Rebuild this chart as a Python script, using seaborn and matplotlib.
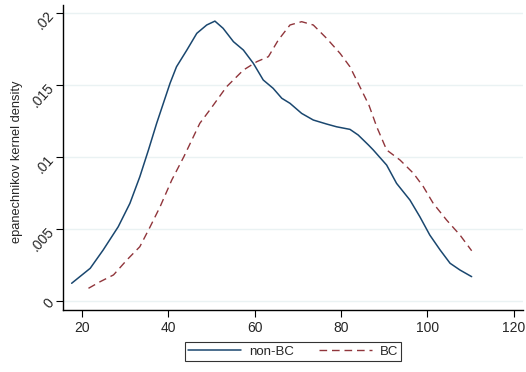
import numpy as np
import pandas as pd
import matplotlib
matplotlib.use("Agg")
import matplotlib.pyplot as plt
import seaborn as sns

# non-BC (solid) density curve
nonbc_x = [17.6, 21.9, 24.9, 28.4, 31.1, 33.4, 35.4, 37.3, 40.4, 41.9, 44.3, 46.6, 48.9,
           50.8, 52.7, 55.1, 57.4, 59.7, 62.0, 64.3, 66.3, 68.2, 70.9, 73.6, 76.7, 79.0,
           82.1, 84.0, 86.4, 87.5, 90.6, 92.9, 96.0, 98.3, 100.6, 103.0, 105.3, 107.6, 110.3]
nonbc_y = [0.00123, 0.00227, 0.00354, 0.00516, 0.00678, 0.00863, 0.01049, 0.01234, 0.01512,
           0.01627, 0.01743, 0.01859, 0.01917, 0.01944, 0.01894, 0.01801, 0.01743, 0.01651,
           0.01535, 0.01477, 0.01408, 0.01373, 0.01303, 0.01257, 0.01229, 0.01210, 0.01192,
           0.01153, 0.01083, 0.01049, 0.00944, 0.00817, 0.00701, 0.00585, 0.00458, 0.00354,
           0.00262, 0.00215, 0.00169]

# BC (dashed) density curve
bc_x = [21.5, 24.2, 27.3, 30.4, 33.4, 35.8, 38.1, 40.8, 43.6, 47.3, 49.7, 53.5, 57.4, 60.5,
        63.2, 65.5, 68.2, 70.9, 73.6, 76.7, 79.8, 82.1, 84.0, 86.5, 88.3, 90.6, 93.7, 96.8,
        99.1, 101.4, 104.5, 107.6, 110.3]
bc_y = [0.00088, 0.00134, 0.00181, 0.00285, 0.00377, 0.00516, 0.00655, 0.00840, 0.01002,
        0.01234, 0.01330, 0.01488, 0.01604, 0.01662, 0.01697, 0.01813, 0.01917, 0.01940,
        0.01917, 0.01824, 0.01720, 0.01627, 0.01512, 0.01360, 0.01210, 0.01049, 0.00979,
        0.00887, 0.00794, 0.00678, 0.00562, 0.00458, 0.00349]

x_ticks = [20, 40, 60, 80, 100, 120]
y_ticks = [0, 0.005, 0.01, 0.015, 0.02]
y_ticklabels = ["0", ".005", ".01", ".015", ".02"]
series_names = ["non-BC", "BC"]

sns.set_style("white")
plt.rcParams['font.family'] = ['Liberation Sans', 'DejaVu Sans']

fig = plt.figure(figsize=(5.26, 3.72), dpi=100)
ax = fig.add_axes([0.1198, 0.1667, 0.8745, 0.8199])

df1 = pd.DataFrame({"x": nonbc_x, "y": nonbc_y})
df2 = pd.DataFrame({"x": bc_x, "y": bc_y})
sns.lineplot(data=df1, x="x", y="y", ax=ax, color="#1a476f", lw=1.1,
             label=series_names[0], sort=False)
sns.lineplot(data=df2, x="x", y="y", ax=ax, color="#90353b", lw=1.0,
             label=series_names[1], sort=False, dashes=False)
for ln in ax.lines:
    ln.set_solid_joinstyle("round")
    ln.set_dash_joinstyle("round")
ax.lines[1].set_dashes([5.5, 3.5])

ax.set_xlim(15.6, 122.2)
ax.set_ylim(-0.000625, 0.02056)
ax.set_xticks(x_ticks)
ax.set_xticklabels([str(t) for t in x_ticks], fontsize=10)
ax.set_yticks(y_ticks)
ax.set_yticklabels(y_ticklabels, fontsize=10, rotation=48, va="center", ha="right",
                   rotation_mode="anchor")
ax.yaxis.grid(True, color="#eaf2f3", lw=1.0)
ax.xaxis.grid(False)
ax.set_xlabel("")
ax.set_ylabel("epanechnikov kernel density", fontsize=9.3, labelpad=3)
ax.yaxis.set_label_coords(-0.086, 0.485)

for s in ["top", "right"]:
    ax.spines[s].set_visible(False)
for s in ["left", "bottom"]:
    ax.spines[s].set_color("black")
    ax.spines[s].set_linewidth(1.0)
ax.tick_params(axis="both", which="major", direction="out", length=5, width=0.8,
               color="black", bottom=True, left=True, pad=3)

leg = ax.legend(loc="upper center", bbox_to_anchor=(0.5, -0.105), ncol=2, fontsize=9.5,
                frameon=True, fancybox=False, handlelength=4.0, columnspacing=1.9,
                borderpad=0.25, handletextpad=0.6, borderaxespad=0)
leg.get_frame().set_edgecolor("black")
leg.get_frame().set_linewidth(0.8)
leg.get_lines()[1].set_dashes([5.5, 3.5])

fig.savefig("out.png", dpi=100)
